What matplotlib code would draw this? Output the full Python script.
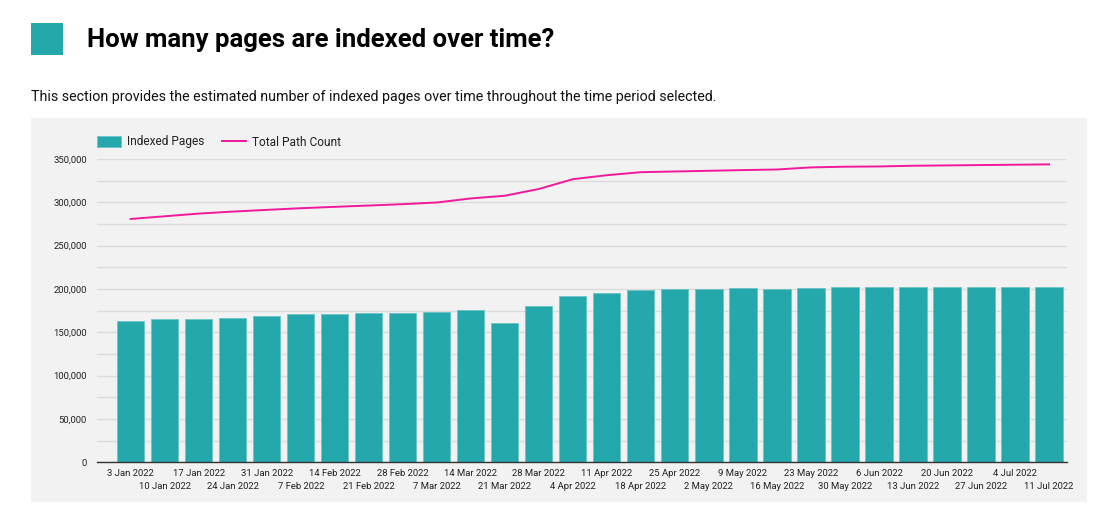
import matplotlib
matplotlib.use("Agg")
import matplotlib.pyplot as plt
from matplotlib.patches import Rectangle
from matplotlib.ticker import FuncFormatter, MultipleLocator

plt.rcParams['font.family'] = ['Roboto', 'DejaVu Sans']

dates = ["3 Jan 2022", "10 Jan 2022", "17 Jan 2022", "24 Jan 2022", "31 Jan 2022",
         "7 Feb 2022", "14 Feb 2022", "21 Feb 2022", "28 Feb 2022", "7 Mar 2022",
         "14 Mar 2022", "21 Mar 2022", "28 Mar 2022", "4 Apr 2022", "11 Apr 2022",
         "18 Apr 2022", "25 Apr 2022", "2 May 2022", "9 May 2022", "16 May 2022",
         "23 May 2022", "30 May 2022", "6 Jun 2022", "13 Jun 2022", "20 Jun 2022",
         "27 Jun 2022", "4 Jul 2022", "11 Jul 2022"]

indexed_pages = [163200, 165000, 165800, 167000, 168900, 170800, 170800, 171900,
                 172700, 173900, 175400, 160800, 180000, 192300, 195400, 199300,
                 200400, 200400, 201200, 200400, 201200, 201900, 201900, 201900,
                 201900, 202700, 202700, 202700]

total_path_count = [280800, 283900, 287000, 289300, 291300, 293200, 294800, 296300,
                    297900, 299800, 304500, 307600, 315400, 326700, 331300, 334800,
                    335600, 336400, 337200, 337900, 340300, 341100, 341400, 342200,
                    342600, 343000, 343400, 343800]

W, H = 1108, 517
fig = plt.figure(figsize=(W / 100, H / 100), dpi=100)
fig.patch.set_facecolor('white')

def fx(px):
    return px / W

def fy(py):
    return 1 - py / H

# grey panel
fig.patches.append(Rectangle((fx(31), fy(502)), fx(1087) - fx(31), fy(118.5) - fy(502),
                             transform=fig.transFigure, facecolor='#f2f2f2',
                             edgecolor='none', zorder=-2))
# teal square
fig.patches.append(Rectangle((fx(31), fy(55)), fx(63) - fx(31), fy(23) - fy(55),
                             transform=fig.transFigure, facecolor='#24a8ac',
                             edgecolor='none', zorder=-1))

fig.text(fx(87), fy(46.7), "How many pages are indexed over time?", fontsize=18.5,
         fontweight='bold', color='#000000', va='baseline', ha='left')
fig.text(fx(31), fy(100.7),
         "This section provides the estimated number of indexed pages over time throughout the time period selected.",
         fontsize=10.3, color='#111111', va='baseline', ha='left')

ax = fig.add_axes([fx(96.7), fy(462.3), fx(1066.7) - fx(96.7), fy(159) - fy(462.3)])
ax.set_facecolor('none')
ax.set_zorder(2)

x = list(range(len(dates)))
bars = ax.bar(x, indexed_pages, width=0.8, color='#24a8ac', edgecolor='#6cc4c6',
              linewidth=0.6, zorder=2, label='Indexed Pages')
line, = ax.plot(x, total_path_count, color='#f2189b', linewidth=1.4, zorder=3,
                label='Total Path Count')

ax.set_xlim(-1.0, 27.52)
ax.set_ylim(0, 350000)
ax.yaxis.set_major_locator(MultipleLocator(50000))
ax.yaxis.set_minor_locator(MultipleLocator(25000))
ax.yaxis.set_major_formatter(FuncFormatter(lambda v, p: f"{int(v):,}"))
ax.grid(axis='y', which='both', color='#dcdcdc', linewidth=1.0, zorder=0)
ax.set_axisbelow(True)

for s in ['top', 'right', 'left']:
    ax.spines[s].set_visible(False)
ax.spines['bottom'].set_color('#333333')
ax.spines['bottom'].set_linewidth(1.0)
ax.spines['bottom'].set_zorder(4)

ax.tick_params(axis='y', which='both', length=0, pad=7.2, labelsize=6.8, labelcolor='#222222')

even = x[0::2]
odd = x[1::2]
ax.set_xticks(even, [dates[i] for i in even])
ax.set_xticks(odd, [dates[i] for i in odd], minor=True)
ax.tick_params(axis='x', which='major', length=0, pad=4.5, labelsize=6.8, labelcolor='#222222')
ax.tick_params(axis='x', which='minor', length=0, pad=14.2, labelsize=6.8, labelcolor='#222222')

leg = ax.legend(handles=[bars, line], labels=['Indexed Pages', 'Total Path Count'],
                loc='center left', bbox_to_anchor=(0, 1 + (159 - 142) / 303.3), ncol=2,
                frameon=False, fontsize=8.6, handlelength=2.0, handleheight=0.95,
                handletextpad=0.5, columnspacing=1.5, borderpad=0, borderaxespad=0)
for t in leg.get_texts():
    t.set_color('#222222')

fig.savefig('out.png', dpi=100, facecolor='white')
